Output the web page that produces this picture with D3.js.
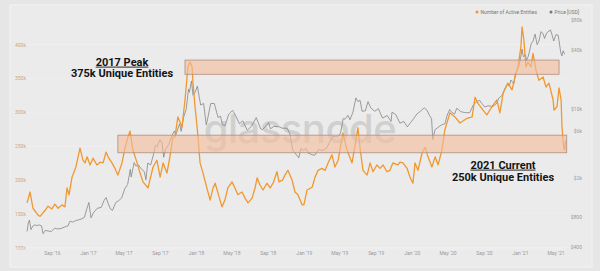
<!DOCTYPE html>
<html><head><meta charset="utf-8">
<script src="https://cdn.jsdelivr.net/npm/d3@7"></script>
<style>
html,body{margin:0;padding:0;background:#e4e4e4;}
svg{display:block;}
</style></head>
<body>
<svg id="c" width="600" height="271"></svg>
<script>
// ---------- DATA ----------
const entityDates = ["2016-06-09","2016-06-19","2016-06-29","2016-07-16","2016-07-23","2016-08-09","2016-08-19","2016-09-01","2016-09-11","2016-09-22","2016-10-05","2016-10-15","2016-10-22","2016-10-29","2016-11-08","2016-11-21","2016-12-05","2016-12-15","2016-12-22","2016-12-29","2017-01-08","2017-01-18","2017-01-31","2017-02-11","2017-02-21","2017-03-03","2017-03-10","2017-03-23","2017-04-02","2017-04-12","2017-04-26","2017-05-06","2017-05-16","2017-05-23","2017-06-02","2017-06-16","2017-06-26","2017-07-06","2017-07-23","2017-08-09","2017-08-22","2017-09-02","2017-09-12","2017-09-25","2017-10-05","2017-10-15","2017-10-22","2017-11-01","2017-11-15","2017-11-25","2017-12-05","2017-12-12","2017-12-19","2017-12-22","2017-12-29","2018-01-05","2018-01-08","2018-01-15","2018-01-25","2018-02-07","2018-02-18","2018-02-28","2018-03-07","2018-03-17","2018-03-30","2018-04-09","2018-04-19","2018-05-03","2018-05-13","2018-05-23","2018-06-06","2018-06-16","2018-06-26","2018-07-10","2018-07-20","2018-07-27","2018-08-06","2018-08-16","2018-08-29","2018-09-09","2018-09-19","2018-10-02","2018-10-09","2018-10-22","2018-10-29","2018-11-08","2018-11-22","2018-12-02","2018-12-12","2018-12-26","2019-01-01","2019-01-12","2019-01-29","2019-02-08","2019-02-18","2019-03-03","2019-03-14","2019-03-24","2019-04-06","2019-04-16","2019-04-27","2019-05-13","2019-05-27","2019-06-13","2019-06-23","2019-07-03","2019-07-10","2019-07-20","2019-08-03","2019-08-13","2019-08-23","2019-09-05","2019-09-16","2019-09-26","2019-10-09","2019-10-19","2019-10-29","2019-11-15","2019-11-22","2019-12-02","2019-12-16","2019-12-26","2020-01-05","2020-01-12","2020-01-22","2020-02-05","2020-02-15","2020-02-25","2020-03-09","2020-03-20","2020-03-30","2020-04-12","2020-04-22","2020-05-09","2020-05-26","2020-06-12","2020-07-06","2020-07-23","2020-08-02","2020-08-12","2020-08-29","2020-09-11","2020-09-28","2020-10-15","2020-10-25","2020-11-05","2020-11-21","2020-12-05","2020-12-15","2020-12-25","2021-01-04","2021-01-08","2021-01-14","2021-01-21","2021-01-28","2021-02-07","2021-02-14","2021-02-24","2021-03-06","2021-03-20","2021-03-30","2021-04-09","2021-04-23","2021-04-26","2021-05-06","2021-05-13","2021-05-20","2021-05-23","2021-05-29","2021-06-01","2021-06-04"];
const entityValues = [166,182,158,148,146,155,161,157,164,158,163,160,188,178,204,219,247,229,225,234,222,232,222,226,225,241,234,225,217,207,225,247,263,272,244,225,210,197,188,219,229,204,225,210,234,263,263,293,278,318,367,374,367,343,308,278,263,225,210,188,170,188,195,180,160,170,188,197,188,178,182,173,166,173,188,203,192,185,195,188,195,212,197,200,207,214,200,182,178,163,163,185,189,204,214,217,214,225,237,219,229,269,244,225,251,277,247,214,207,225,212,222,217,222,212,214,225,222,226,225,217,204,195,225,214,240,248,234,219,234,222,244,274,299,293,284,291,293,322,313,303,296,308,318,299,328,343,333,352,367,396,426,407,367,374,367,387,362,347,352,337,343,318,303,308,336,318,278,247,244,258];

const priceDates = ["2016-06-09","2016-06-13","2016-06-17","2016-06-22","2016-06-28","2016-07-05","2016-07-12","2016-07-20","2016-07-28","2016-08-02","2016-08-10","2016-08-20","2016-08-30","2016-09-10","2016-09-20","2016-10-01","2016-10-15","2016-10-25","2016-11-01","2016-11-10","2016-11-20","2016-12-01","2016-12-10","2016-12-20","2016-12-28","2017-01-04","2017-01-11","2017-01-20","2017-02-01","2017-02-15","2017-02-24","2017-03-03","2017-03-10","2017-03-18","2017-03-25","2017-04-05","2017-04-15","2017-04-25","2017-05-05","2017-05-15","2017-05-24","2017-05-27","2017-06-06","2017-06-12","2017-06-20","2017-06-30","2017-07-10","2017-07-16","2017-07-22","2017-08-01","2017-08-10","2017-08-17","2017-08-23","2017-09-01","2017-09-08","2017-09-14","2017-09-20","2017-10-01","2017-10-12","2017-10-20","2017-10-25","2017-11-07","2017-11-12","2017-11-20","2017-11-29","2017-12-07","2017-12-10","2017-12-17","2017-12-22","2017-12-28","2018-01-06","2018-01-12","2018-01-17","2018-01-27","2018-02-05","2018-02-10","2018-02-20","2018-03-04","2018-03-17","2018-03-25","2018-04-01","2018-04-10","2018-04-22","2018-05-05","2018-05-15","2018-05-28","2018-06-08","2018-06-24","2018-07-08","2018-07-24","2018-08-08","2018-08-14","2018-08-25","2018-09-04","2018-09-10","2018-09-22","2018-10-10","2018-10-20","2018-11-05","2018-11-15","2018-11-20","2018-11-25","2018-12-05","2018-12-15","2018-12-22","2018-12-30","2019-01-08","2019-01-15","2019-01-28","2019-02-07","2019-02-20","2019-03-05","2019-03-20","2019-04-02","2019-04-10","2019-04-25","2019-05-05","2019-05-14","2019-05-20","2019-05-30","2019-06-06","2019-06-16","2019-06-26","2019-07-03","2019-07-10","2019-07-17","2019-07-28","2019-08-06","2019-08-15","2019-08-29","2019-09-10","2019-09-24","2019-10-10","2019-10-23","2019-10-26","2019-11-08","2019-11-22","2019-12-05","2019-12-17","2019-12-28","2020-01-08","2020-01-18","2020-01-30","2020-02-12","2020-02-22","2020-03-01","2020-03-08","2020-03-12","2020-03-20","2020-04-01","2020-04-10","2020-04-22","2020-04-30","2020-05-08","2020-05-15","2020-05-25","2020-06-01","2020-06-15","2020-07-01","2020-07-15","2020-07-27","2020-08-05","2020-08-17","2020-08-25","2020-09-04","2020-09-15","2020-10-01","2020-10-15","2020-10-21","2020-11-01","2020-11-08","2020-11-18","2020-11-26","2020-12-01","2020-12-11","2020-12-17","2020-12-27","2021-01-03","2021-01-08","2021-01-12","2021-01-20","2021-01-22","2021-01-29","2021-02-08","2021-02-14","2021-02-21","2021-02-28","2021-03-06","2021-03-13","2021-03-20","2021-03-25","2021-04-01","2021-04-14","2021-04-20","2021-04-25","2021-05-03","2021-05-10","2021-05-13","2021-05-19","2021-05-23","2021-05-27","2021-06-01"];
const priceValues = [575,700,750,600,650,670,660,670,655,545,590,580,575,620,610,615,640,655,730,715,740,755,770,800,975,1130,790,895,985,1010,1180,1270,1110,970,940,1130,1180,1260,1550,1720,2450,2050,2870,2650,2720,2480,2330,1920,2830,2720,3420,4300,4150,4900,4600,3250,3900,4400,5400,5990,5500,7100,5950,8200,9900,16000,14800,19300,13800,14500,17100,13400,11000,11400,6900,8100,11400,11400,8200,8500,6900,6800,8900,9700,8600,7100,7600,6100,6700,8200,6300,6200,6700,7300,6300,6700,6600,6400,6400,5600,4500,3800,3500,3200,4000,3800,4000,3600,3450,3400,3900,3800,4050,4900,5300,5200,5700,8000,7900,8650,7800,9300,13000,11900,12300,9500,9600,11900,10300,9500,10100,8100,8600,7500,9300,8800,7200,7500,6600,7300,8050,8900,9500,10300,9700,8600,8000,4900,6200,6600,6900,7100,8700,9900,9300,8900,10200,9400,9200,9200,11000,11700,12300,11400,10500,10800,10600,11500,12900,13700,15500,17800,17100,19700,18000,22800,26500,33000,40600,34000,35500,30800,34300,46000,48800,57500,45000,48900,61000,58000,52000,59000,63500,56000,49000,57000,56000,49500,37000,34600,39000,36000];

const leftTicks = [100000,150000,200000,250000,300000,350000,400000];
const rightTicks = [400,800,2000,6000,10000,40000,80000];
const rightTickLabels = ["$400","$800","$2k","$6k","$10k","$40k","$80k"];
const xTickDates = ["2016-09-01","2017-01-01","2017-05-01","2017-09-01","2018-01-01","2018-05-01","2018-09-01","2019-01-01","2019-05-01","2019-09-01","2020-01-01","2020-05-01","2020-09-01","2021-01-01","2021-05-01"];
const seriesNames = ["Number of Active Entities","Price [USD]"];
// annotation bands: [startDate, endDate, lowEntities, highEntities]
const bandPeak = ["2017-11-25","2021-05-13",356000,377000];
const bandCurrent = ["2017-04-12","2021-06-08",240000,266000];
const noteTexts = [["2017 Peak","375k Unique Entities"],["2021 Current","250k Unique Entities"]];

// ---------- DRAW ----------
const parse = d3.utcParse("%Y-%m-%d");
const svg = d3.select("#c");
const orange = "#f0982f", grey = "#858585";

const x = d3.scaleUtc().domain([parse("2017-01-01"), parse("2021-01-01")]).range([88, 520]);
const yL = d3.scaleLinear().domain([100000, 400000]).range([247.5, 44.5]);
const yR = d3.scaleLog().domain([400, 80000]).range([247, 20]);

// frame
svg.append("rect").attr("x",0).attr("y",0).attr("width",600).attr("height",271).attr("fill","#e6e6e6");
svg.append("rect").attr("x",10).attr("y",5).attr("width",582).attr("height",262)
  .attr("fill","#ebebeb").attr("stroke","#f3f3f3").attr("stroke-width",1);

// gridlines
svg.append("g").selectAll("line").data(leftTicks).join("line")
  .attr("x1",14).attr("x2",566).attr("y1",d=>yL(d)).attr("y2",d=>yL(d))
  .attr("stroke","#f1f1f1").attr("stroke-width",0.7);

// watermark
svg.append("text").attr("x",300).attr("y",143).attr("text-anchor","middle")
  .attr("font-family","Inter, Roboto, sans-serif").attr("font-size",40).attr("font-weight",500)
  .attr("fill","#d0d0d0").attr("letter-spacing",-0.5).text("glassnode");

// price line
const priceData = priceDates.map((d,i)=>({date:parse(d), v:priceValues[i]}));
svg.append("path").datum(priceData)
  .attr("d", d3.line().x(d=>x(d.date)).y(d=>yR(d.v)).curve(d3.curveLinear))
  .attr("fill","none").attr("stroke",grey).attr("stroke-width",0.8);

// entities line
const entData = entityDates.map((d,i)=>({date:parse(d), v:entityValues[i]*1000}));
svg.append("path").datum(entData)
  .attr("d", d3.line().x(d=>x(d.date)).y(d=>yL(d.v)).curve(d3.curveLinear))
  .attr("fill","none").attr("stroke",orange).attr("stroke-width",1.3).attr("stroke-linejoin","round");

// bands (translucent, over the lines)
function band(b){
  svg.append("rect")
    .attr("x",x(parse(b[0]))).attr("width",x(parse(b[1]))-x(parse(b[0])))
    .attr("y",yL(b[3])).attr("height",yL(b[2])-yL(b[3]))
    .attr("fill","#f3bd9b").attr("fill-opacity",0.62)
    .attr("stroke","#b08c7c").attr("stroke-width",0.8);
}
band(bandPeak); band(bandCurrent);

// left axis
const axL = d3.axisLeft(yL).tickValues(leftTicks).tickSize(0).tickFormat(d=>d3.format("d")(d/1000)+"k");
const gL = svg.append("g").attr("transform","translate(15,0)").call(axL);
gL.select(".domain").remove();
gL.selectAll("text").attr("text-anchor","start").attr("x",0).attr("dy","0.32em")
  .attr("font-family","Roboto, sans-serif").attr("font-size",5).attr("fill","#cfa47c");

// right axis
const axR = d3.axisRight(yR).tickValues(rightTicks).tickSize(0).tickFormat((d,i)=>rightTickLabels[i]);
const gR = svg.append("g").attr("transform","translate(582,0)").call(axR);
gR.select(".domain").remove();
gR.selectAll("text").attr("text-anchor","end").attr("x",0).attr("dy","0.32em")
  .attr("font-family","Roboto, sans-serif").attr("font-size",5).attr("fill","#9a9a9a");

// bottom axis
const fmt = d3.utcFormat("%b '%y");
const axB = d3.axisBottom(x).tickValues(xTickDates.map(parse)).tickSize(0).tickFormat(fmt);
const gB = svg.append("g").attr("transform","translate(0,253)").call(axB);
gB.select(".domain").remove();
gB.selectAll("text").attr("dy","0.32em").attr("y",0)
  .attr("font-family","Roboto, sans-serif").attr("font-size",5).attr("fill","#9a9a9a");
svg.append("line").attr("x1",14).attr("x2",566).attr("y1",249).attr("y2",249)
  .attr("stroke","#f1f1f1").attr("stroke-width",0.7);

// legend
const leg = svg.append("g").attr("font-family","Roboto, sans-serif").attr("font-size",5).attr("fill","#777");
const legX = [477, 551];
[orange, "#777"].forEach((c,i)=>{
  leg.append("circle").attr("cx",legX[i]).attr("cy",12).attr("r",1.5).attr("fill",c);
  leg.append("text").attr("x",legX[i]+3.5).attr("y",13.7).text(seriesNames[i]);
});

// annotations
function note(lines, cx, y1, y2){
  const g = svg.append("g").attr("font-family","Roboto, sans-serif").attr("font-weight",700)
    .attr("font-size",11).attr("fill","#141414").attr("text-anchor","middle");
  const t1 = g.append("text").attr("x",cx).attr("y",y1).text(lines[0]);
  g.append("text").attr("x",cx).attr("y",y2).text(lines[1]);
  const w = t1.node().getComputedTextLength();
  g.append("line").attr("x1",cx-w/2).attr("x2",cx+w/2).attr("y1",y1+1.6).attr("y2",y1+1.6)
    .attr("stroke","#141414").attr("stroke-width",0.9);
}
note(noteTexts[0], 122, 65.5, 77);
note(noteTexts[1], 503, 168.5, 181);
</script>
</body></html>
